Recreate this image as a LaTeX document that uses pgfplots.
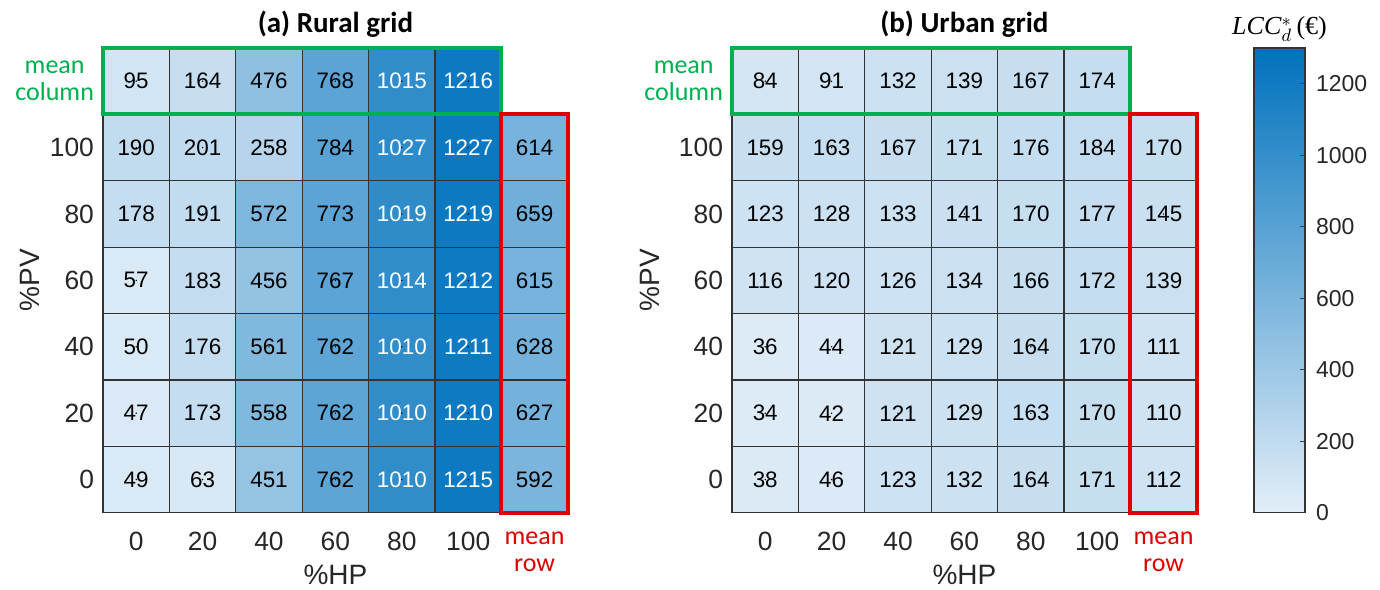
\documentclass[border=0pt]{standalone}
\usepackage{pgfplots}
\pgfplotsset{compat=1.18}
\usepackage{pgfplotstable}
\usepackage{fontspec}
\setmainfont{Liberation Sans}
\newfontfamily\calibri{Carlito}
\newfontfamily\timesf{Liberation Serif}
\definecolor{mygreen}{RGB}{0,176,80}
\definecolor{myred}{RGB}{220,0,0}
\definecolor{ticktext}{RGB}{38,38,38}
\definecolor{lcclow}{RGB}{227,238,248}
\definecolor{lcchigh}{RGB}{0,114,189}

% x: HP index (0..5 = 0..100 %, 6 = mean row); y: PV index (0..5 = 0..100 %, 6 = mean column)
\pgfplotstableread{
x y c
0 0 49
1 0 63
2 0 451
3 0 762
4 0 1010
5 0 1215
6 0 592
0 1 47
1 1 173
2 1 558
3 1 762
4 1 1010
5 1 1210
6 1 627
0 2 50
1 2 176
2 2 561
3 2 762
4 2 1010
5 2 1211
6 2 628
0 3 57
1 3 183
2 3 456
3 3 767
4 3 1014
5 3 1212
6 3 615
0 4 178
1 4 191
2 4 572
3 4 773
4 4 1019
5 4 1219
6 4 659
0 5 190
1 5 201
2 5 258
3 5 784
4 5 1027
5 5 1227
6 5 614
0 6 95
1 6 164
2 6 476
3 6 768
4 6 1015
5 6 1216
}\rural

\pgfplotstableread{
x y c
0 0 38
1 0 46
2 0 123
3 0 132
4 0 164
5 0 171
6 0 112
0 1 34
1 1 42
2 1 121
3 1 129
4 1 163
5 1 170
6 1 110
0 2 36
1 2 44
2 2 121
3 2 129
4 2 164
5 2 170
6 2 111
0 3 116
1 3 120
2 3 126
3 3 134
4 3 166
5 3 172
6 3 139
0 4 123
1 4 128
2 4 133
3 4 141
4 4 170
5 4 177
6 4 145
0 5 159
1 5 163
2 5 167
3 5 171
4 5 176
5 5 184
6 5 170
0 6 84
1 6 91
2 6 132
3 6 139
4 6 167
5 6 174
}\urban

\pgfplotsset{
  heatmapstyle/.style={
    set layers,
    colormap={bluemap}{rgb255(0)=(227,238,248) rgb255(1)=(0,114,189)},
    point meta min=0, point meta max=1300,
    x=33.2pt, y=33.2pt,
    xmin=-0.5, xmax=6.5, ymin=-0.5, ymax=6.5,
    axis line style={draw=none},
    major tick style={draw=none},
    xtick={0,...,5}, xticklabels={0,20,40,60,80,100},
    ytick={0,...,5}, yticklabels={0,20,40,60,80,100},
    extra x ticks={6}, extra x tick labels={mean\\row},
    extra x tick style={xticklabel style={text=myred, font=\calibri\fontsize{13}{13.5}\selectfont, align=center}},
    extra y ticks={6}, extra y tick labels={mean\\column},
    extra y tick style={yticklabel style={text=mygreen, font=\calibri\fontsize{13}{13.5}\selectfont, align=center}},
    tick label style={font=\fontsize{13.2}{15}\selectfont, text=ticktext},
    xticklabel shift=6pt,
    yticklabel shift=1pt,
    clip=false,
    title style={font=\calibri\bfseries\fontsize{14.5}{16}\selectfont,
      at={(axis description cs:0.5,1)}, anchor=base, yshift=1.5pt},
    xlabel={\%HP}, ylabel={\%PV},
    label style={font=\fontsize{14}{16}\selectfont, text=ticktext},
    xlabel style={at={(axis description cs:0.5,-0.133)}, anchor=center},
  },
  cellstyle/.style={
    scatter, only marks, mark=square*, mark size=16.6pt, line width=0.55pt,
    point meta=explicit,
    scatter/use mapped color={draw=black!80, fill=mapped color},
  },
  labstyle/.style={
    only marks, mark=*, mark size=0.1pt, mark options={draw=none, fill=none},
    point meta=explicit symbolic,
    nodes near coords,
    every node near coord/.append style={anchor=center, text=#1, font=\fontsize{11.2}{13}\selectfont},
  },
}

\begin{document}
\begin{tikzpicture}
\begin{axis}[heatmapstyle, anchor=south west, at={(0pt,0pt)},
  title={(a) Rural grid},
  ylabel style={at={(axis description cs:-0.157,0.5)}, anchor=center}]
  \addplot[cellstyle] table[meta=c] {\rural};
  \addplot[labstyle=black, x filter/.expression={\thisrow{c}>1000 ? nan : x}] table[meta=c] {\rural};
  \addplot[labstyle=white, x filter/.expression={\thisrow{c}>1000 ? x : nan}] table[meta=c] {\rural};
  \begin{pgfonlayer}{axis foreground}
  \draw[mygreen, line width=2pt] (axis cs:-0.5,5.5) rectangle (axis cs:5.5,6.5);
  \draw[myred, line width=2pt] (axis cs:5.5,-0.5) rectangle (axis cs:6.5,5.5);
  \end{pgfonlayer}
\end{axis}
\begin{axis}[heatmapstyle, anchor=south west, at={(314.5pt,0pt)},
  title={(b) Urban grid},
  ylabel style={at={(axis description cs:-0.176,0.5)}, anchor=center}]
  \addplot[cellstyle] table[meta=c] {\urban};
  \addplot[labstyle=black] table[meta=c] {\urban};
  \begin{pgfonlayer}{axis foreground}
  \draw[mygreen, line width=2pt] (axis cs:-0.5,5.5) rectangle (axis cs:5.5,6.5);
  \draw[myred, line width=2pt] (axis cs:5.5,-0.5) rectangle (axis cs:6.5,5.5);
  \end{pgfonlayer}
\end{axis}
% colour bar
\begin{axis}[anchor=south west, at={(575.5pt,0pt)},
  scale only axis, width=25.5pt, height=232.4pt,
  xmin=0, xmax=1, ymin=0, ymax=1300,
  xtick=\empty,
  ytick={0,200,400,600,800,1000,1200},
  yticklabels={0,200,400,600,800,1000,1200},
  tick align=inside, ytick pos=right, yticklabel pos=right,
  major tick length=2.5pt,
  major tick style={draw=black!75, line width=0.5pt},
  axis line style={draw=black!80, line width=0.6pt},
  yticklabel style={font=\fontsize{11.5}{13}\selectfont, text=ticktext},
  yticklabel shift=2pt,
  title={\timesf\fontsize{13}{14}\selectfont\textit{LCC}$^{*}_{d}$\,(€)},
  title style={at={(axis description cs:0.5,1)}, anchor=base, yshift=0.5pt},
  axis on top]
  \addplot[draw=none, bottom color=lcclow, top color=lcchigh] coordinates {(0,1300) (1,1300)} \closedcycle;
\end{axis}
\pgfresetboundingbox
\path[use as bounding box] (-51.5pt,-38.5pt) rectangle (638.5pt,256.4pt);
\end{tikzpicture}
\end{document}
